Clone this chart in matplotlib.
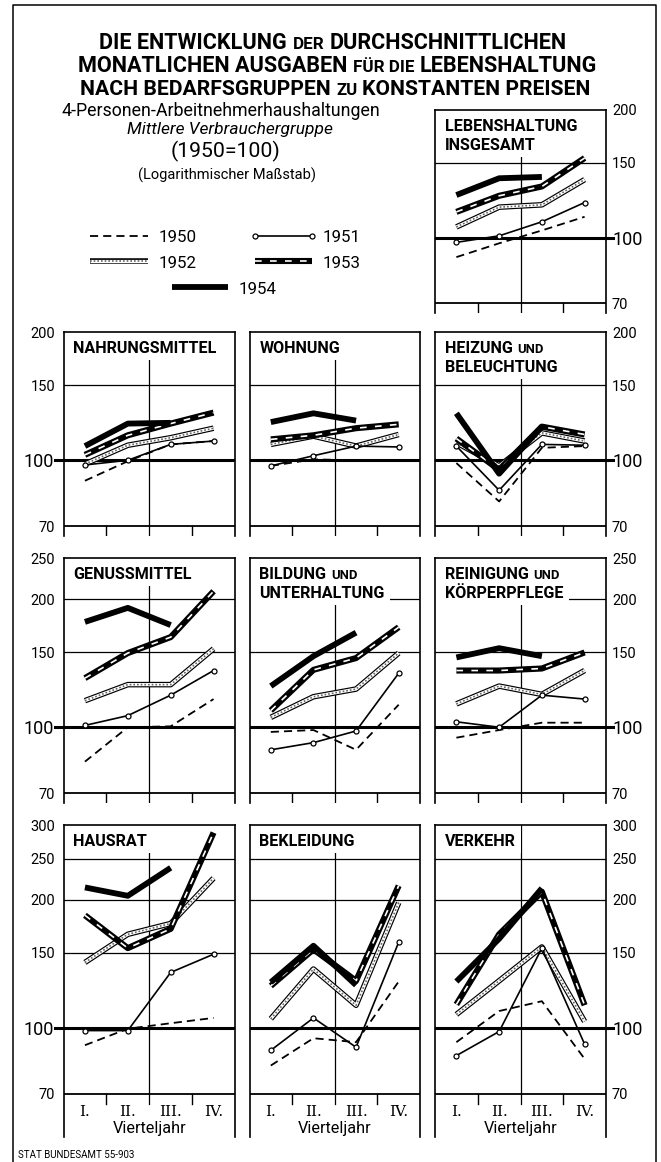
import numpy as np
import matplotlib
matplotlib.use("Agg")
import matplotlib.pyplot as plt
from matplotlib import font_manager
from matplotlib.transforms import Affine2D
from matplotlib.patches import Rectangle
from matplotlib.lines import Line2D

W, H = 661, 1162
K = 184.5  # Pixel je ln-Einheit (logarithmischer Massstab)

# ---- Daten (1950 = 100), Reihenfolge: 1950, 1951, 1952, 1953, 1954 ----
jahre = ["1950", "1951", "1952", "1953", "1954"]
quartale = ["I.", "II.", "III.", "IV."]

lebenshaltung = [[90, 97, 104, 112], [97.5, 101, 109, 121], [106, 118, 119.5, 137],
                 [115, 125.5, 132, 154], [126, 138, 139]]
nahrungsmittel = [[89.5, 99.5, 109, 111], [97.5, 100, 109, 111], [98, 108.5, 113, 119],
                  [103, 114.5, 122, 129.5], [108, 122, 122.5]]
wohnung = [[97, 100.5, 100, 100], [97, 102.5, 108, 107.5], [109, 114, 108, 115],
           [112, 114.5, 119, 121.5], [123, 129, 124]]
heizung = [[98.5, 80, 107, 108], [108, 85, 109, 108.5], [110, 97, 116, 111],
           [112.5, 95, 120, 115], [129, 93, 120]]
genussmittel = [[83, 100, 100.5, 116.5], [101, 106.5, 119, 136], [115.5, 126, 126, 153],
                [130.5, 149.5, 163, 209], [177, 191, 174]]
bildung = [[97.5, 98.5, 88.5, 113], [88.5, 92, 98, 134], [105.5, 118, 123, 149.5],
           [109.5, 136.5, 145.5, 172], [125, 147, 167]]
reinigung = [[94.5, 98.5, 102.5, 102.5], [103, 100, 119, 116.5], [113.5, 125, 119.5, 136],
             [136, 136, 137.5, 150], [146, 153.5, 147]]
hausrat = [[91, 99.5, 102.5, 105.5], [98.5, 98.5, 135, 149], [142.5, 166, 176, 225],
           [184, 154, 171, 288], [214, 204.5, 238]]
bekleidung = [[81.5, 94.5, 92.5, 128.5], [88.5, 105.5, 90, 159], [105, 137.5, 113, 197],
              [125.5, 153, 129, 216], [128, 156, 126]]
verkehr = [[92.5, 109.5, 115.5, 84.5], [86, 98, 154, 91.5], [107.5, 129, 155, 103.5],
           [113.5, 166, 209, 113], [128.5, 162, 213]]

# Zeilen: Skalen-Obergrenze, Hilfslinien, Beschriftung
zeilen_max = [200, 200, 250, 300]
zeilen_gitter = [[150], [150], [200, 150], [250, 200, 150]]
zeilen_werte = [[200, 150, 100, 70], [200, 150, 100, 70],
                [250, 200, 150, 100, 70], [300, 250, 200, 150, 100, 70]]

# ---- Layout in Bildpixeln (von oben) ----
zeilen_oben = [109.8, 332.4, 558.2, 825.1]
zeilen_ext = [10, 10, 10, 43]
spalten = [(63.5, 235.0), (249.5, 420.0), (435.0, 606.0)]

namen = {f.name for f in font_manager.fontManager.ttflist}
if "Liberation Sans Narrow" in namen:
    SANS = dict(family="Liberation Sans Narrow")
elif "Roboto" in namen:
    SANS = dict(family="Roboto")
else:
    SANS = dict(family="DejaVu Sans")
SERIF = dict(family="DejaVu Serif")

fig = plt.figure(figsize=(W / 100, H / 100), dpi=100)
PX = Affine2D().scale(1, -1).translate(0, H)
R = fig.canvas.get_renderer()


def zeile(x, y, teile, ha="center", breite=None, z=5):
    objs = [fig.text(0, y, s, transform=PX, fontsize=fs, va="baseline", ha="left",
                     zorder=z, **kw) for s, fs, kw in teile]

    def messen():
        ws = [o.get_window_extent(R).width for o in objs]
        gaps = [0.28 * objs[i].get_fontsize() * 100 / 72 for i in range(len(objs) - 1)]
        return ws, gaps

    ws, gaps = messen()
    if breite:
        f = breite / (sum(ws) + sum(gaps))
        for o in objs:
            o.set_fontsize(o.get_fontsize() * f)
        ws, gaps = messen()
    total = sum(ws) + sum(gaps)
    x0 = x - total / 2 if ha == "center" else x
    for i, o in enumerate(objs):
        o.set_x(x0)
        x0 += ws[i] + (gaps[i] if i < len(gaps) else 0)
    return objs


def schichten(jahr):
    if jahr == "1950":
        return [dict(color="k", linewidth=1.3, linestyle=(0, (4.5, 2.8)))]
    if jahr == "1951":
        return [dict(color="k", linewidth=1.2, marker="o", markersize=3.6,
                     markerfacecolor="w", markeredgecolor="k", markeredgewidth=0.9)]
    if jahr == "1952":
        return [dict(color="k", linewidth=4.0, solid_capstyle="butt"),
                dict(color="w", linewidth=2.3, solid_capstyle="butt"),
                dict(color="0.4", linewidth=1.2, linestyle=(0, (1, 1.2)))]
    if jahr == "1953":
        return [dict(color="k", linewidth=4.4, solid_capstyle="butt"),
                dict(color="w", linewidth=1.2, linestyle=(0, (4, 5)))]
    return [dict(color="k", linewidth=4.2, solid_capstyle="butt")]


zorder_jahr = {"1950": 2, "1952": 3, "1953": 4, "1954": 5, "1951": 6}


def flinie(xs, ys, **kw):
    fig.add_artist(Line2D(xs, ys, transform=PX, **kw))


B = dict(fontweight="bold", **SANS)
T, U = 11.6, 9.4
panels = [
    (0, 2, [[("LEBENSHALTUNG", T, B)], [("INSGESAMT", T, B)]], lebenshaltung),
    (1, 0, [[("NAHRUNGSMITTEL", T, B)]], nahrungsmittel),
    (1, 1, [[("WOHNUNG", T, B)]], wohnung),
    (1, 2, [[("HEIZUNG", T, B), ("UND", U, B)], [("BELEUCHTUNG", T, B)]], heizung),
    (2, 0, [[("GENUSSMITTEL", T, B)]], genussmittel),
    (2, 1, [[("BILDUNG", T, B), ("UND", U, B)], [("UNTERHALTUNG", T, B)]], bildung),
    (2, 2, [[("REINIGUNG", T, B), ("UND", U, B)], [("KÖRPERPFLEGE", T, B)]], reinigung),
    (3, 0, [[("HAUSRAT", T, B)]], hausrat),
    (3, 1, [[("BEKLEIDUNG", T, B)]], bekleidung),
    (3, 2, [[("VERKEHR", T, B)]], verkehr),
]

for zi, si, titel, daten in panels:
    x0, x1 = spalten[si]
    top = zeilen_oben[zi]
    vtop = zeilen_max[zi]
    ylow = 70 * np.exp(-zeilen_ext[zi] / K)
    tick_low = 70 * np.exp(-10 / K)
    h = K * np.log(vtop / ylow)
    ax = fig.add_axes([x0 / W, 1 - (top + h) / H, (x1 - x0) / W, h / H])
    ax.set_yscale("log")
    ax.set_xticks([])
    ax.set_yticks([])
    ax.set_yticks([], minor=True)
    ax.spines["bottom"].set_visible(False)
    for s in ("top", "left", "right"):
        ax.spines[s].set_linewidth(1.2)

    for g in zeilen_gitter[zi]:
        ax.axhline(g, color="k", lw=0.9, zorder=1)
    ax.axhline(70, color="k", lw=1.3, zorder=1)
    ax.axhline(100, color="k", lw=2.2, zorder=1.8)
    ax.plot([2.5, 2.5], [tick_low, vtop], color="k", lw=0.9, zorder=1)
    for xt in (1.5, 3.5):
        ax.plot([xt, xt], [tick_low, 70], color="k", lw=1.0, zorder=1)

    for jahr, werte in zip(jahre, daten):
        xs = np.arange(1, len(werte) + 1)
        for stil in schichten(jahr):
            ax.plot(xs, werte, zorder=zorder_jahr[jahr], **stil)

    # Titel mit weissem Grund
    objs = []
    for k, teile in enumerate(titel):
        objs += zeile(x0 + 10, top + 21 + 19 * k, teile, ha="left")
    ext = [o.get_window_extent(R) for o in objs]
    rechts = max(e.x1 for e in ext) + 5
    unten = H - min(e.y0 for e in ext) + 4
    ax.add_patch(Rectangle((x0, top), rechts - x0, unten - top, transform=PX,
                           facecolor="w", edgecolor="none", zorder=1.5))
    ax.set_xlim(0.5, 4.5)
    ax.set_ylim(ylow, vtop)

    def ypx(v):
        return top + K * np.log(vtop / v)

    if si == 0:
        flinie([55, x0], [ypx(100)] * 2, color="k", linewidth=2.2)
        for v in zeilen_werte[zi]:
            gr = 13 if v == 100 else 10.5
            fig.text(55 if v != 100 else 54, ypx(v), str(v), transform=PX, fontsize=gr,
                     ha="right", va="center_baseline", **SANS)
    if si == 2:
        flinie([x1, 613], [ypx(100)] * 2, color="k", linewidth=2.2)
        for v in zeilen_werte[zi]:
            gr = 13 if v == 100 else 10.5
            fig.text(613 if v == 100 else 612, ypx(v), str(v), transform=PX, fontsize=gr,
                     ha="left", va="center_baseline", **SANS)
    if zi == 3:
        q = (x1 - x0) / 4
        for k, lab in enumerate(quartale):
            fig.text(x0 + q * (k + 0.5), 1116, lab, transform=PX, fontsize=11,
                     ha="center", va="baseline", **SERIF)
        zeile((x0 + x1) / 2, 1133, [("Vierteljahr", 12, SANS)], breite=73)

# ---- Ueberschrift ----
gross, klein = 14, 11
titelzeilen = [
    ([("DIE ENTWICKLUNG", gross, B), ("DER", klein, B), ("DURCHSCHNITTLICHEN", gross, B)], 333, 49, 470),
    ([("MONATLICHEN AUSGABEN", gross, B), ("FÜR DIE", klein, B), ("LEBENSHALTUNG", gross, B)], 337, 72, 522),
    ([("NACH BEDARFSGRUPPEN", gross, B), ("ZU", klein, B), ("KONSTANTEN PREISEN", gross, B)], 335, 95, 511),
]
for teile, xc, yb, br in titelzeilen:
    zeile(xc, yb, teile, breite=br)

zeile(221, 116, [("4-Personen-Arbeitnehmerhaushaltungen", 11, SANS)], breite=317)
zeile(230, 134, [("Mittlere Verbrauchergruppe", 11, dict(style="italic", **SANS))], breite=206)
zeile(226, 157, [("(1950=100)", 15, SANS)], breite=110)
zeile(227, 180, [("(Logarithmischer Maßstab)", 9, SANS)], breite=179)

# ---- Legende ----
legende = [("1950", 90, 148, 236), ("1951", 255, 312, 236), ("1952", 90, 148, 261),
           ("1953", 255, 312, 261), ("1954", 172, 228, 287)]
for jahr, lx0, lx1, ly in legende:
    for stil in schichten(jahr):
        flinie([lx0, lx1], [ly, ly], **stil)
    zeile(lx1 + 11, ly + 6.5, [(jahr, 13, SANS)], ha="left", breite=38)

# ---- Rahmen und Quelle ----
flinie([13, 13, 656, 656], [H, 5, 5, H], color="k", linewidth=1.1)
fig.text(18, 1158, "STAT BUNDESAMT 55-903", transform=PX, fontsize=7, ha="left",
         va="baseline", **SANS)

fig.savefig("out.png", dpi=100)
